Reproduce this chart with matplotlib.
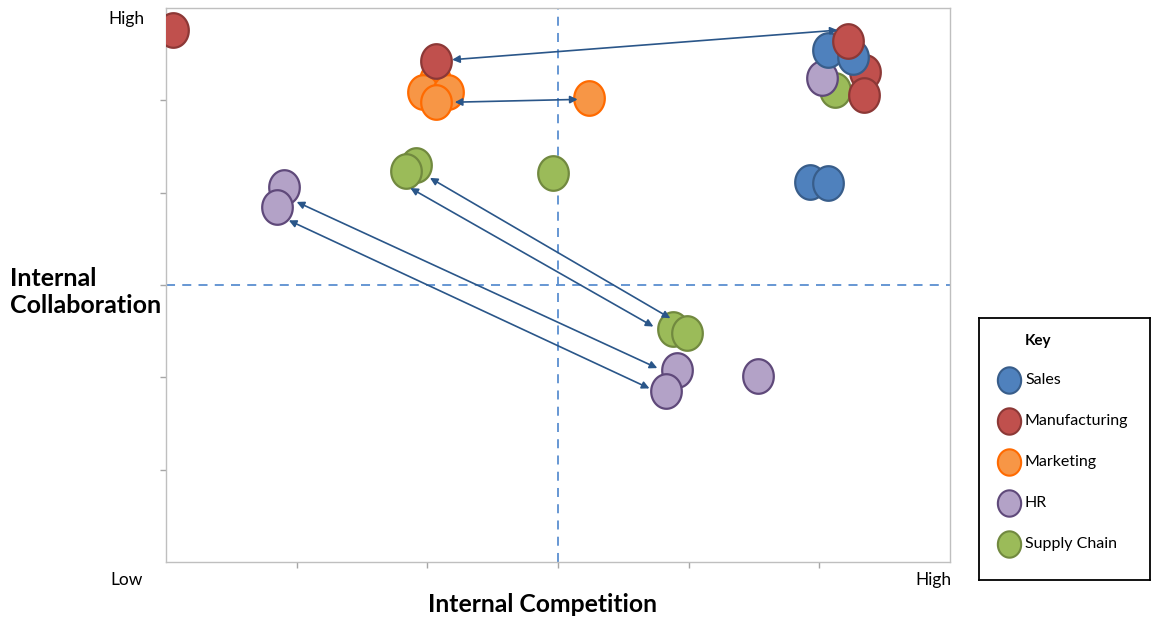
import numpy as np
import matplotlib.pyplot as plt
from matplotlib.path import Path

plt.rcParams['font.family'] = ['Lato', 'DejaVu Sans']

# data (0 = low, 6 = high on both axes)
categories = ["Sales", "Manufacturing", "Marketing", "HR", "Supply Chain"]

sales_x = [5.07, 5.26, 4.93, 5.07]
sales_y = [5.55, 5.47, 4.12, 4.10]

manuf_x = [0.05, 2.07, 5.22, 5.35, 5.34]
manuf_y = [5.76, 5.43, 5.64, 5.31, 5.06]

mkt_x = [2.06, 1.97, 2.16, 2.07, 3.24]
mkt_y = [5.22, 5.09, 5.09, 4.98, 5.03]

hr_x = [5.02, 0.90, 0.85, 3.91, 3.83, 4.53]
hr_y = [5.24, 4.06, 3.84, 2.08, 1.85, 2.01]

supply_x = [5.12, 1.91, 1.84, 2.96, 3.88, 3.99]
supply_y = [5.11, 4.30, 4.23, 4.21, 2.52, 2.48]

# movement arrows (start x, start y, end x, end y)
arrows = [
    (2.19, 5.44, 5.14, 5.76),
    (2.21, 4.98, 3.15, 5.01),
    (2.02, 4.16, 3.86, 2.64),
    (1.87, 4.05, 3.73, 2.55),
    (1.00, 3.90, 3.76, 2.10),
    (0.94, 3.70, 3.70, 1.88),
]

face = {"Sales": "#4F81BD", "Manufacturing": "#C0504D", "Marketing": "#F79646",
        "HR": "#B3A2C7", "Supply Chain": "#9BBB59"}
edge = {"Sales": "#385D8A", "Manufacturing": "#8C3836", "Marketing": "#FF6A00",
        "HR": "#5F497A", "Supply Chain": "#71893F"}

# slightly tall ellipse marker
t = np.linspace(0, 2 * np.pi, 60)
oval = Path(np.column_stack([np.cos(t), 1.13 * np.sin(t)]), closed=True)

fig = plt.figure(figsize=(11.52, 6.18), dpi=100)
ax = fig.add_axes([166 / 1152, 1 - 562 / 618, 784 / 1152, 554 / 618])


def dots(xs, ys, name, z):
    ax.scatter(xs, ys, s=620, marker=oval, facecolor=face[name],
               edgecolor=edge[name], linewidth=1.6, zorder=z)


dots(supply_x, supply_y, "Supply Chain", 3)
dots(hr_x, hr_y, "HR", 4)
dots(manuf_x[3:], manuf_y[3:], "Manufacturing", 4.5)
dots(sales_x, sales_y, "Sales", 5)
dots(mkt_x, mkt_y, "Marketing", 5)
dots(manuf_x[:3], manuf_y[:3], "Manufacturing", 6)

for x0, y0, x1, y1 in arrows:
    ax.annotate("", xy=(x1, y1), xytext=(x0, y0),
                arrowprops=dict(arrowstyle="<|-|>", color="#2A5689", lw=1.2,
                                mutation_scale=11, shrinkA=0, shrinkB=0),
                zorder=7)

ax.axvline(3, color="#5B8FD0", ls=(0, (5, 4)), lw=1.3, zorder=2)
ax.axhline(3, color="#5B8FD0", ls=(0, (5, 4)), lw=1.3, zorder=2)

ax.set_xlim(0, 6)
ax.set_ylim(0, 6)
ax.set_xticks([1, 2, 3, 4, 5])
ax.set_yticks([1, 2, 3, 4, 5])
ax.set_xticklabels([])
ax.set_yticklabels([])
ax.tick_params(length=4, color="#A6A6A6", width=1)
for sp in ax.spines.values():
    sp.set_color("#BFBFBF")
    sp.set_linewidth(1)

fig.text(126 / 1152, 1 - 19 / 618, "High", ha="center", va="center", fontsize=12.5)
fig.text(127 / 1152, 1 - 580 / 618, "Low", ha="center", va="center", fontsize=12.5)
fig.text(933 / 1152, 1 - 580 / 618, "High", ha="center", va="center", fontsize=12.5)
fig.text(10 / 1152, 1 - 292 / 618, "Internal\nCollaboration", ha="left", va="center",
         fontsize=18, fontweight="bold", linespacing=1.25)
fig.text(543 / 1152, 1 - 604 / 618, "Internal Competition", ha="center", va="center",
         fontsize=17.8, fontweight="bold")

# key box
key = fig.add_axes([979 / 1152, 1 - 580 / 618, 171 / 1152, 262 / 618])
key.set_xlim(0, 171)
key.set_ylim(262, 0)
key.set_xticks([])
key.set_yticks([])
for sp in key.spines.values():
    sp.set_color("black")
    sp.set_linewidth(1.3)
key.text(46, 23, "Key", fontsize=11, fontweight="bold", va="center")
for i, name in enumerate(categories):
    yy = 62 + 41 * i
    key.scatter([30], [yy], s=360, marker=oval, facecolor=face[name],
                edgecolor=edge[name], linewidth=1.5)
    key.text(46, yy, name, fontsize=11.5, va="center")

fig.savefig("out.png", dpi=100)
